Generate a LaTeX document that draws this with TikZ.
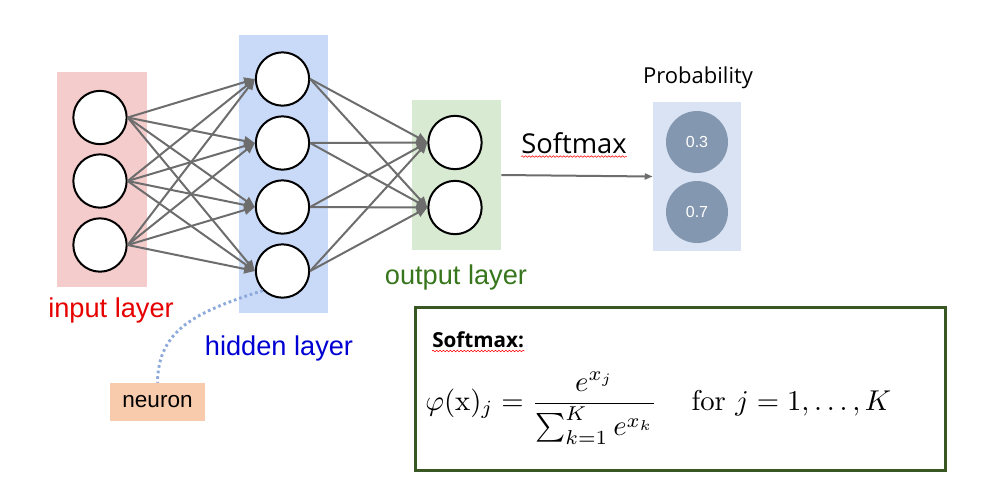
\documentclass[tikz,border=0pt]{standalone}
\usepackage{fontspec}
\usepackage{graphicx}
\usetikzlibrary{arrows.meta,decorations.pathmorphing}
\newfontfamily\arialfont{Liberation Sans}
\newfontfamily\yaheifont{Open Sans}
\definecolor{inpink}{HTML}{F4CCCC}
\definecolor{hidblue}{HTML}{C9DAF8}
\definecolor{outgreen}{HTML}{D9EAD3}
\definecolor{probblue}{HTML}{DAE3F3}
\definecolor{probgray}{HTML}{8497B0}
\definecolor{linkgray}{HTML}{6D6D6D}
\definecolor{neuronorange}{HTML}{F8CBAD}
\definecolor{dotblue}{HTML}{8EAADB}
\definecolor{boxgreen}{HTML}{385723}
\definecolor{redtext}{HTML}{E60000}
\definecolor{bluetext}{HTML}{0000D2}
\definecolor{greentext}{HTML}{38761D}
\begin{document}
\begin{tikzpicture}[
	x=0.75pt, y=-0.75pt,
	every node/.style={inner sep=0pt},
	neuron/.style={shape=circle, draw=black, line width=1.5pt, fill=white, minimum size=40pt},
	probnode/.style={shape=circle, fill=probgray, minimum size=46.5pt, text=white, font=\arialfont\fontsize{12}{14}\selectfont},
	layerlabel/.style={font=\arialfont\fontsize{20.4}{24}\selectfont},
	link/.style={draw=linkgray, line width=1.5pt, -{Triangle[length=8pt,width=7pt]}},
	squiggle/.style={draw=red, line width=0.4pt, decorate, decoration={snake, amplitude=0.6pt, segment length=2.6pt}},
]
\useasboundingbox (0,0) rectangle (982,476);

% layer boxes
\node[fill=inpink, minimum width=67.5pt, minimum height=161.25pt] (inbox) at (102,179.5) {};
\node[fill=hidblue, minimum width=66.75pt, minimum height=208.5pt] (hidbox) at (283.5,174) {};
\node[fill=outgreen, minimum width=66.75pt, minimum height=112.5pt] (outbox) at (456.5,175) {};
\node[fill=probblue, minimum width=66pt, minimum height=111.75pt] (probbox) at (697,176.5) {};

% neurons
\node[neuron] (i1) at (100,117.5) {};
\node[neuron] (i2) at (100,181) {};
\node[neuron] (i3) at (100,245) {};
\node[neuron] (h1) at (282.5,79) {};
\node[neuron] (h2) at (282.5,143) {};
\node[neuron] (h3) at (282.5,207) {};
\node[neuron] (h4) at (282.5,271) {};
\node[neuron] (o1) at (455,142.5) {};
\node[neuron] (o2) at (455,207.5) {};

% connections
\foreach \i in {1,2,3}
	\foreach \h in {1,2,3,4}
		\draw[link] (i\i.east) -- (h\h.west);
\foreach \h in {1,2,3,4}
	\foreach \o in {1,2}
		\draw[link] (h\h.east) -- (o\o.west);

% probabilities
\node[probnode] (p1) at (697,142) {0.3};
\node[probnode] (p2) at (697,212) {0.7};
\node[font=\yaheifont\fontsize{16.5}{20}\selectfont] (prob) at (698,78) {Probability};

% softmax arrow
\draw[draw=linkgray, line width=1.5pt, -{Triangle[length=6pt,width=4.5pt]}] (outbox.east) -- (probbox.west);
\node[font=\yaheifont\fontsize{20.5}{24}\selectfont] (smx) at (574,143) {Softmax};
\draw[squiggle] ([yshift=-2pt]smx.south west) -- ([yshift=-2pt]smx.south east);

% labels
\node[layerlabel, text=redtext] (inlabel) at (111,310) {input layer};
\node[layerlabel, text=bluetext] (hidlabel) at (279,348) {hidden layer};
\node[layerlabel, text=greentext] (outlabel) at (456,277) {output layer};

% neuron callout
\node[fill=neuronorange, minimum width=71.25pt, minimum height=28.5pt, font=\arialfont\fontsize{16.9}{20}\selectfont] (neuronlabel) at (157.5,402) {neuron};
\draw[dotblue, line width=2.2pt, dash pattern=on 2pt off 2.2pt] (h4.225) .. controls (195,312) and (158,330) .. (neuronlabel.north);

% softmax formula
\draw[boxgreen, line width=2.25pt] (415,307) rectangle (945,470);
\node[anchor=west, font=\yaheifont\bfseries\fontsize{15.5}{18}\selectfont] (smxtitle) at (432,340) {Softmax:};
\draw[squiggle] ([yshift=-2pt]smxtitle.south west) -- ([yshift=-2pt]smxtitle.south east);
\node[anchor=west] (formula) at (425,408)
	{\scalebox{2.15}{$\displaystyle \varphi(\mathrm{x})_j = \frac{e^{x_j}}{\sum_{k=1}^{K} e^{x_k}} \hskip 1.2em \mathrm{for}\ j = 1, \ldots, K$}};
\end{tikzpicture}
\end{document}
